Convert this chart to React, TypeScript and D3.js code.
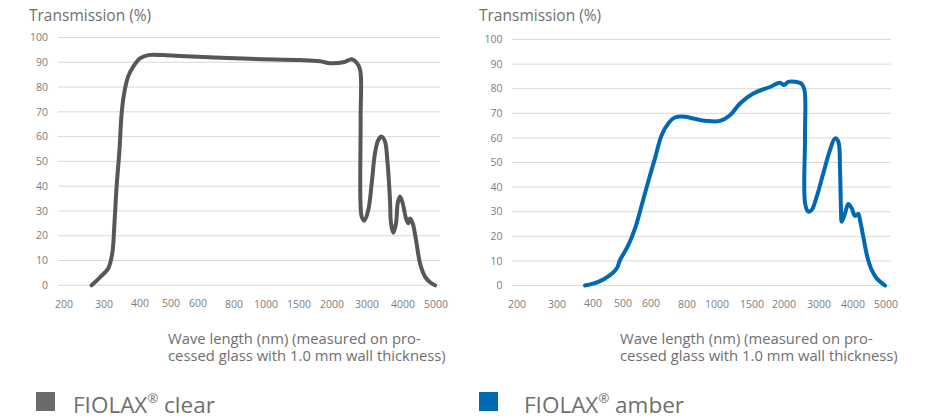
import React from "react";
import * as d3 from "d3";

// ---- data ----
const xTickValues = [200, 300, 400, 500, 600, 800, 1000, 1500, 2000, 3000, 4000, 5000];
const yTickValues = [0, 10, 20, 30, 40, 50, 60, 70, 80, 90, 100];

const clearWavelength = [269, 290, 312, 323, 329, 335, 343, 349, 356, 367, 381, 400, 427, 475, 533, 900, 1515, 1818, 1970, 2323, 2563, 2706, 2805, 2818, 2814, 2849, 2923, 3036, 3131, 3222, 3314, 3408, 3500, 3564, 3639, 3667, 3731, 3806, 3853, 3917, 3992, 4091, 4161, 4212, 4294, 4394, 4515, 4667, 4818, 4970];
const clearTransmission = [0, 3.2, 6.9, 12.9, 25, 39.8, 54.6, 69.4, 77.5, 84.2, 88.2, 91.6, 92.9, 92.9, 92.5, 91.4, 90.9, 90.4, 89.6, 90.0, 91.2, 89.8, 86.9, 68, 33.1, 27.7, 26.1, 30.4, 41.2, 53.3, 58.6, 60, 58, 50.6, 34.4, 25, 21.2, 25, 33.1, 35.8, 33.1, 27, 25, 27, 25, 18.3, 8.9, 3.5, 1.2, 0];

const amberWavelength = [378, 418, 457, 479, 490, 519, 543, 567, 590, 622, 659, 696, 733, 789, 842, 931, 1043, 1186, 1329, 1520, 1781, 1938, 2000, 2123, 2314, 2506, 2585, 2600, 2603, 2694, 2791, 2934, 3126, 3324, 3471, 3568, 3618, 3647, 3668, 3765, 3862, 3962, 4061, 4161, 4212, 4312, 4433, 4567, 4718, 4970];
const amberTransmission = [0, 1.5, 4.2, 6.9, 10.3, 16.4, 23.2, 32.7, 42.2, 51.7, 61.1, 65.9, 68.3, 68.6, 67.9, 66.9, 66.9, 69.2, 74, 78, 80.7, 82.4, 81.5, 82.8, 82.8, 81.9, 79.5, 60.5, 33.4, 30, 30.7, 36.1, 45.6, 55.1, 59.8, 58.5, 47, 30.7, 25.9, 29.3, 33.1, 31.4, 28.3, 29.1, 26.6, 19.8, 11.7, 6.3, 2.9, 0];

const yAxisTitle = "Transmission (%)";
const xAxisTitleLines = ["Wave length (nm) (measured on pro-", "cessed glass with 1.0 mm wall thickness)"];
const seriesNames = ["FIOLAX", "FIOLAX"];
const seriesSuffix = [" clear", " amber"];
const seriesColors = ["#575757", "#0069b4"];
const legendSquareColors = ["#6b6b6b", "#0069b4"];

// ---- layout ----
const FONT = "'Open Sans', 'Noto Sans', sans-serif";
const TEXT = "#6f6f6f";
const TICK = "#7d7d7d";

type ChartProps = {
  x0: number; x1: number; yTop: number; yBottom: number;
  tickPx: number[]; wl: number[]; tr: number[]; color: string;
  labelRight: number; titleX: number; xTitleX: number;
  legendX: number; legendTextX: number; squareColor: string;
  name: string; suffix: string;
};

function Chart(p: ChartProps) {
  const x = d3.scaleLinear().domain(xTickValues).range(p.tickPx);
  const y = d3.scaleLinear().domain([0, 100]).range([p.yBottom, p.yTop]);
  const pts: [number, number][] = p.wl.map((w, i) => [w, p.tr[i]]);
  const line = d3
    .line<[number, number]>()
    .x((d) => x(d[0]))
    .y((d) => y(d[1]))
    .curve(d3.curveCatmullRom.alpha(0.5));
  return (
    <g>
      <text x={p.titleX} y={21} fontSize={15.5} fill={TEXT} fontFamily={FONT}>
        {yAxisTitle}
      </text>
      {yTickValues.map((v) => (
        <g key={v}>
          <line x1={p.x0} x2={p.x1} y1={y(v)} y2={y(v)} stroke="#d9d9d9" strokeWidth={1} />
          <text x={p.labelRight} y={y(v) + 3.7} fontSize={10.5} textAnchor="end" fill={TICK} fontFamily={FONT}>
            {v}
          </text>
        </g>
      ))}
      {xTickValues.map((v) => (
        <text
          key={v}
          x={x(v)}
          y={v >= 400 && v <= 600 ? 307 : 308}
          fontSize={10.5}
          textAnchor="middle"
          fill={TICK}
          fontFamily={FONT}
        >
          {v}
        </text>
      ))}
      <path d={line(pts) || ""} fill="none" stroke={p.color} strokeWidth={4} strokeLinejoin="round" strokeLinecap="round" />
      <text fontSize={14.8} fill={TEXT} fontFamily={FONT}>
        {xAxisTitleLines.map((t, i) => (
          <tspan key={i} x={p.xTitleX} y={344 + i * 16.5}>
            {t}
          </tspan>
        ))}
      </text>
      <rect x={p.legendX} y={392} width={19} height={19} fill={p.squareColor} />
      <text x={p.legendTextX} y={413} fontSize={22.5} fill={TEXT} fontFamily={FONT}>
        {p.name}
        <tspan fontSize={13} dy={-10}>®</tspan>
        <tspan dy={10}>{p.suffix}</tspan>
      </text>
    </g>
  );
}

export default function App() {
  return (
    <svg
      width={928}
      height={419}
      style={{ position: "absolute", left: 0, top: 0, background: "#fff" }}
    >
      <Chart
        x0={58} x1={440} yTop={37.5} yBottom={285.3}
        tickPx={[64, 104, 140, 171, 198, 234, 266, 299, 332, 367, 403, 436]}
        wl={clearWavelength} tr={clearTransmission} color={seriesColors[0]}
        labelRight={48} titleX={29} xTitleX={168}
        legendX={36} legendTextX={73} squareColor={legendSquareColors[0]}
        name={seriesNames[0]} suffix={seriesSuffix[0]}
      />
      <Chart
        x0={512} x1={891} yTop={39.5} yBottom={285.5}
        tickPx={[517, 557, 593, 623, 651, 687, 717, 752, 784, 819, 853, 886]}
        wl={amberWavelength} tr={amberTransmission} color={seriesColors[1]}
        labelRight={502.5} titleX={479} xTitleX={620}
        legendX={479} legendTextX={524} squareColor={legendSquareColors[1]}
        name={seriesNames[1]} suffix={seriesSuffix[1]}
      />
    </svg>
  );
}
